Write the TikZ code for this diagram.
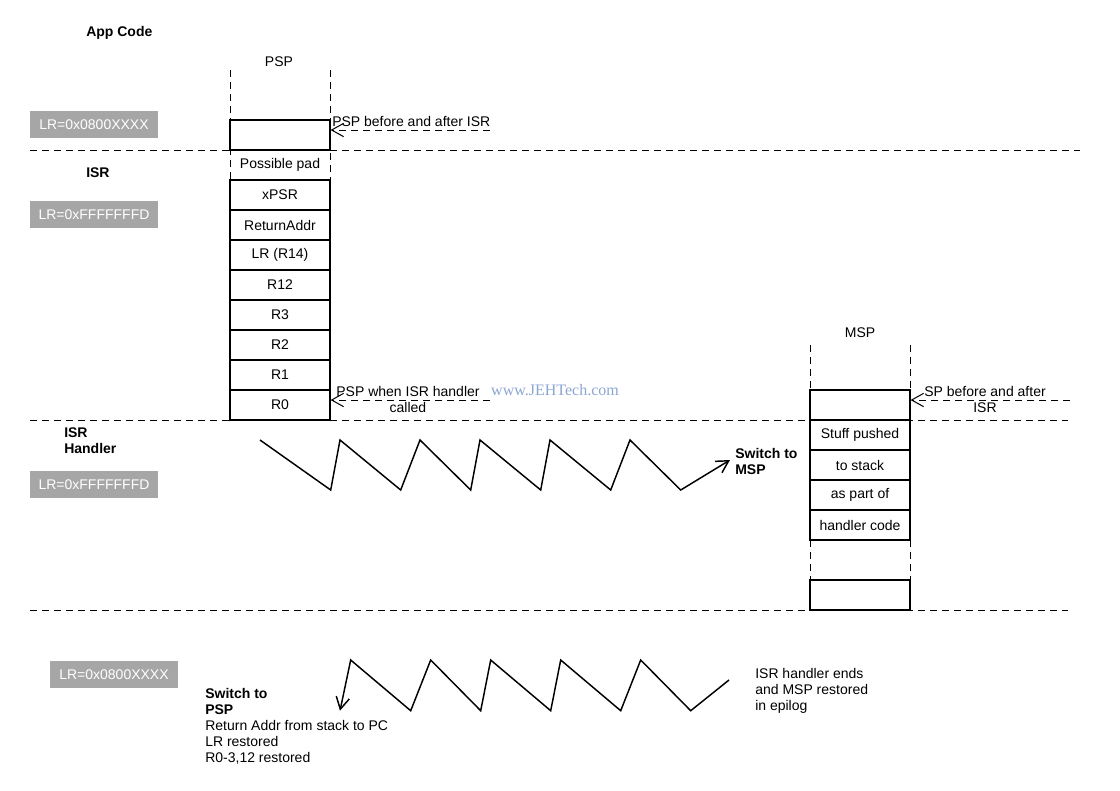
\documentclass[tikz,border=0pt]{standalone}
\usepackage{fontspec}
\setmainfont{Liberation Sans}
\newfontfamily\wmfont{Liberation Serif}
\usetikzlibrary{arrows.meta}
\definecolor{lrgray}{RGB}{166,166,166}
\definecolor{wmblue}{RGB}{140,165,210}
\begin{document}
\begin{tikzpicture}[x=0.75pt,y=-0.75pt,
  txt/.style={font=\fontsize{10.5}{12}\selectfont, inner sep=0pt},
  btxt/.style={font=\fontsize{10.5}{12}\selectfont\bfseries, inner sep=0pt},
  cell/.style={draw, line width=0.9pt, minimum width=75pt, minimum height=22.5pt, inner sep=0pt, font=\fontsize{10.5}{12}\selectfont},
  padcell/.style={cell, dashed, dash pattern=on 5.25pt off 3.75pt, line width=0.75pt},
  lrbox/.style={fill=lrgray, text=white, minimum width=96pt, minimum height=20.25pt, inner sep=0pt, font=\fontsize{10.5}{12}\selectfont},
  sep/.style={line width=0.75pt, dash pattern=on 5.25pt off 3.75pt},
  ptr/.style={line width=0.75pt, dash pattern=on 5.25pt off 3.75pt, -{Straight Barb[length=9pt,width=10pt,line width=0.75pt]}},
  zz/.style={line width=1.1pt, line join=miter, -{Straight Barb[length=9pt,width=10pt,line width=1.1pt]}}]
\useasboundingbox (0,0) rectangle (1120,790);

% separators
\coordinate (s1a) at (30,150); \coordinate (s1b) at (1080,150);
\coordinate (s2a) at (30,420); \coordinate (s2b) at (1068,420);
\coordinate (s3a) at (30,610); \coordinate (s3b) at (1068,610);
\draw[sep] (s1a) -- (s1b);
\draw[sep] (s2a) -- (s2b);
\draw[sep] (s3a) -- (s3b);

% section labels
\node[btxt, anchor=west] (appcode) at (86,33) {App Code};
\node[btxt, anchor=west] (isr) at (86,173) {ISR};
\node[btxt, anchor=west, align=left] (isrh) at (64,441) {ISR\\Handler};

% LR boxes
\node[lrbox] (lr1) at (94,124.5) {LR=0x0800XXXX};
\node[lrbox] (lr2) at (94,214.5) {LR=0xFFFFFFFD};
\node[lrbox] (lr3) at (94,484.5) {LR=0xFFFFFFFD};
\node[lrbox] (lr4) at (114,674.5) {LR=0x0800XXXX};

% PSP stack
\node[txt] (psp) at (279,62) {PSP};
\coordinate (pl1) at (230,70); \coordinate (pl2) at (230,120);
\coordinate (pr1) at (330,70); \coordinate (pr2) at (330,120);
\draw[sep] (pl1) -- (pl2);
\draw[sep] (pr1) -- (pr2);
\node[cell] (p0) at (280,135) {};
\node[padcell] (ppad) at (280,165) {Possible pad};
\node[cell] (pxpsr) at (280,195) {xPSR};
\node[cell] (pra) at (280,225) {ReturnAddr};
\node[cell] (plr) at (280,255) {LR (R14)};
\node[cell] (pr12) at (280,285) {R12};
\node[cell] (pr3) at (280,315) {R3};
\node[cell] (pr2c) at (280,345) {R2};
\node[cell] (pr1c) at (280,375) {R1};
\node[cell] (pr0) at (280,405) {R0};

% PSP pointers
\coordinate (pp1) at (490,130);
\draw[ptr] (pp1) -- (pp1 -| p0.east);
\node[txt, anchor=west] (pptxt1) at (332,121) {PSP before and after ISR};
\coordinate (pp2) at (490,400);
\draw[ptr] (pp2) -- (pp2 -| pr0.east);
\node[txt, align=center] (pptxt2) at (408,399) {PSP when ISR handler\\called};

% watermark
\node[inner sep=0pt, text=wmblue, font=\wmfont\fontsize{12}{14}\selectfont] (wm) at (555,390) {www.JEHTech.com};

% MSP stack
\node[txt] (msp) at (860,333) {MSP};
\coordinate (ml1) at (810,345); \coordinate (ml2) at (810,390);
\coordinate (mr1) at (910,345); \coordinate (mr2) at (910,390);
\draw[sep] (ml1) -- (ml2);
\draw[sep] (mr1) -- (mr2);
\node[cell] (m0) at (860,405) {};
\node[cell] (m1) at (860,435) {Stuff pushed};
\node[cell] (m2) at (860,465) {to stack};
\node[cell] (m3) at (860,495) {as part of};
\node[cell] (m4) at (860,525) {handler code};
\coordinate (ml3) at (810,540); \coordinate (ml4) at (810,580);
\coordinate (mr3) at (910,540); \coordinate (mr4) at (910,580);
\draw[sep] (ml3) -- (ml4);
\draw[sep] (mr3) -- (mr4);
\node[cell] (m5) at (860,595) {};

% MSP pointer
\coordinate (mp1) at (1070,400);
\draw[ptr] (mp1) -- (mp1 -| m0.east);
\node[txt, align=center] (mptxt) at (985,399) {SP before and after\\ISR};

% zigzag: switch to MSP
\draw[zz] (260,440) -- (330.7,490) -- (340,440) -- (400.7,490) -- (420,440) -- (470.7,490)
  -- (480,440) -- (540.7,490) -- (550,440) -- (610.7,490) -- (630,440) -- (680.7,490) -- (730,460);
\node[btxt, anchor=west, align=left] (swmsp) at (735,461) {Switch to\\MSP};

% zigzag: back to PSP
\draw[zz] (729,680) -- (690.7,710.7) -- (640.7,660) -- (620.7,710.7) -- (560.7,660) -- (550.7,710.7)
  -- (490.7,660) -- (480.7,710.7) -- (430.7,660) -- (410.7,710.7) -- (350.7,660) -- (340,710.7);
\node[txt, anchor=north west, align=left] (ends) at (755,668) {ISR handler ends\\and MSP restored\\in epilog};
\node[txt, anchor=north west, align=left] (swpsp) at (205,688) {\textbf{Switch to}\\\textbf{PSP}\\Return Addr from stack to PC\\LR restored\\R0-3,12 restored};
\end{tikzpicture}
\end{document}
